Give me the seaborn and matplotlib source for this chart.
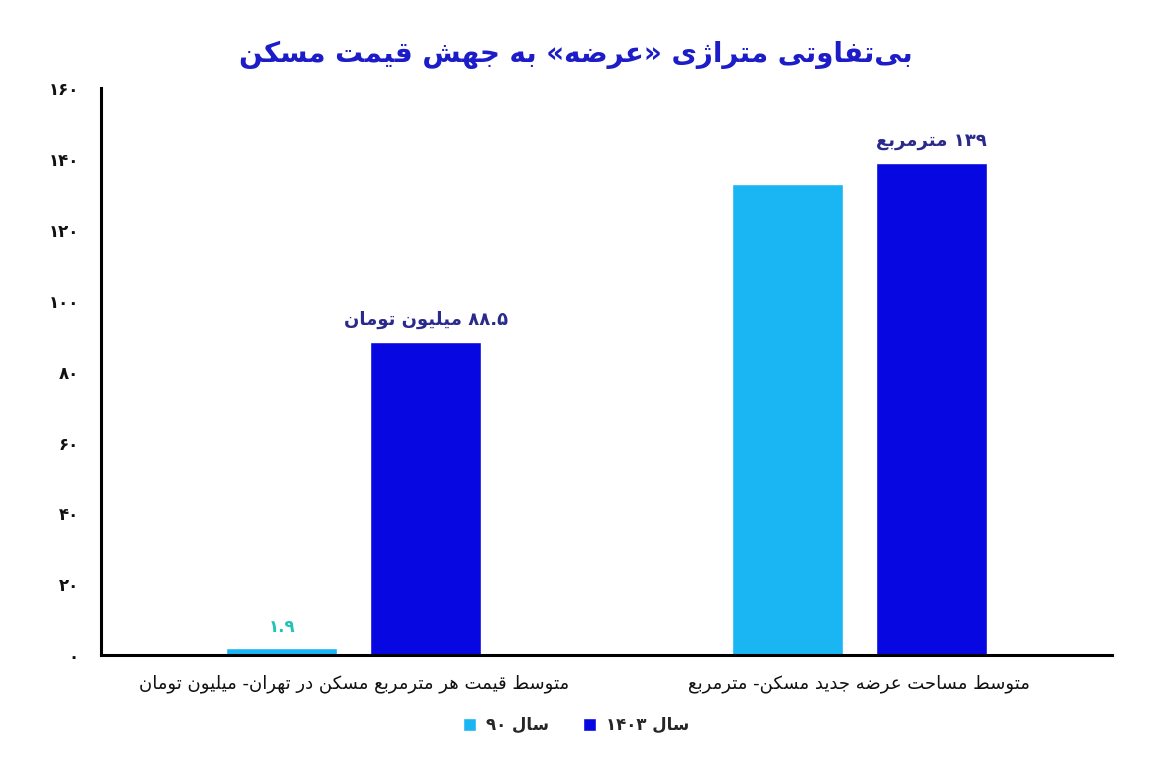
import re
import pandas as pd
import matplotlib
matplotlib.use("Agg")
import matplotlib.pyplot as plt
from matplotlib.ticker import FuncFormatter
import seaborn as sns

# ---- data ----
title = "بی\u200cتفاوتی متراژی «عرضه» به جهش قیمت مسکن"
categories = [
    "متوسط قیمت هر مترمربع مسکن در تهران- میلیون تومان",
    "متوسط مساحت عرضه جدید مسکن- مترمربع",
]
years = ["سال ۹۰", "سال ۱۴۰۳"]
values_90 = [1.9, 133]
values_1403 = [88.5, 139]
labels_90 = ["۱.۹", ""]
labels_1403 = ["۸۸.۵ میلیون تومان", "۱۳۹ مترمربع"]
y_ticks = [0, 20, 40, 60, 80, 100, 120, 140, 160]

COLOR_90 = "#1ab6f4"
COLOR_1403 = "#0707e2"

# ---- minimal Persian shaping (matplotlib has no complex text layout) ----
DUAL = {
    "ب": (0xFE8F, 0xFE90, 0xFE91, 0xFE92), "ت": (0xFE95, 0xFE96, 0xFE97, 0xFE98),
    "ج": (0xFE9D, 0xFE9E, 0xFE9F, 0xFEA0), "ح": (0xFEA1, 0xFEA2, 0xFEA3, 0xFEA4),
    "س": (0xFEB1, 0xFEB2, 0xFEB3, 0xFEB4), "ش": (0xFEB5, 0xFEB6, 0xFEB7, 0xFEB8),
    "ض": (0xFEBD, 0xFEBE, 0xFEBF, 0xFEC0), "ط": (0xFEC1, 0xFEC2, 0xFEC3, 0xFEC4),
    "ع": (0xFEC9, 0xFECA, 0xFECB, 0xFECC), "ف": (0xFED1, 0xFED2, 0xFED3, 0xFED4),
    "ق": (0xFED5, 0xFED6, 0xFED7, 0xFED8), "ل": (0xFEDD, 0xFEDE, 0xFEDF, 0xFEE0),
    "م": (0xFEE1, 0xFEE2, 0xFEE3, 0xFEE4), "ن": (0xFEE5, 0xFEE6, 0xFEE7, 0xFEE8),
    "ه": (0xFEE9, 0xFEEA, 0xFEEB, 0xFEEC), "ی": (0xFBFC, 0xFBFD, 0xFBFE, 0xFBFF),
    "ک": (0xFB8E, 0xFB8F, 0xFB90, 0xFB91),
}
RIGHT = {
    "ا": (0xFE8D, 0xFE8E), "د": (0xFEA9, 0xFEAA), "ر": (0xFEAD, 0xFEAE),
    "و": (0xFEED, 0xFEEE), "ژ": (0xFB8A, 0xFB8B), "ز": (0xFEAF, 0xFEB0),
}
MIRROR = {"«": "»", "»": "«", "(": ")", ")": "("}


def fa(text):
    chars = list(text)
    out = []
    for i, c in enumerate(chars):
        if c in DUAL or c in RIGHT:
            prev = chars[i - 1] if i > 0 else ""
            nxt = chars[i + 1] if i + 1 < len(chars) else ""
            jp = prev in DUAL
            jn = c in DUAL and (nxt in DUAL or nxt in RIGHT)
            forms = DUAL.get(c) or RIGHT.get(c)
            if jp and jn:
                f = forms[3]
            elif jp:
                f = forms[1]
            elif jn:
                f = forms[2]
            else:
                f = forms[0]
            out.append(chr(f))
        elif c == "\u200c":
            continue
        else:
            out.append(c)
    shaped = "".join(out)
    # visual order: reverse, but keep number runs left-to-right
    tokens = re.findall(r"[۰-۹0-9.]+|[^۰-۹0-9.]+", shaped)
    vis = []
    for t in reversed(tokens):
        if re.fullmatch(r"[۰-۹0-9.]+", t):
            vis.append(t)
        else:
            vis.append("".join(MIRROR.get(ch, ch) for ch in reversed(t)))
    return "".join(vis)


def fa_num(v, pos=None):
    return str(int(v)).translate(str.maketrans("0123456789", "۰۱۲۳۴۵۶۷۸۹"))


sns.set_theme(style="white")
plt.rcParams["font.family"] = ["DejaVu Sans"]

df = pd.DataFrame({
    "category": [fa(c) for c in categories] * 2,
    "year": [fa(years[0])] * 2 + [fa(years[1])] * 2,
    "value": values_90 + values_1403,
})

fig = plt.figure(figsize=(11.52, 7.68), dpi=100)
ax = fig.add_axes([0.0877, 0.147, 0.8776, 0.738])

sns.barplot(
    data=df, x="category", y="value", hue="year",
    palette=[COLOR_90, COLOR_1403], saturation=1,
    width=0.57, gap=0.23, ax=ax,
)

ax.bar_label(ax.containers[0], labels=[fa(l) for l in labels_90],
             padding=9, color="#22c4b6", fontsize=12, fontweight="bold")
ax.bar_label(ax.containers[1], labels=[fa(l) for l in labels_1403],
             padding=9, color="#2a2a8c", fontsize=13, fontweight="bold")

ax.set_xlim(-0.5, 1.5)
ax.set_ylim(0, 160)
ax.set_yticks(y_ticks)
ax.yaxis.set_major_formatter(FuncFormatter(fa_num))
ax.set_xlabel("")
ax.set_ylabel("")
ax.tick_params(axis="y", length=0, pad=16, labelsize=12, labelcolor="#111111")
ax.tick_params(axis="x", length=0, pad=14, labelsize=13, labelcolor="#111111")
for lab in ax.get_yticklabels():
    lab.set_fontweight("bold")

sns.despine(ax=ax)
for side in ["left", "bottom"]:
    ax.spines[side].set_color("black")
    ax.spines[side].set_linewidth(2.2)

handles, labels = ax.get_legend_handles_labels()
ax.get_legend().remove()
fig.legend(handles, labels, loc="center", bbox_to_anchor=(0.5, 0.056),
           ncol=2, frameon=False, fontsize=12, handlelength=0.8,
           handleheight=0.8, columnspacing=2.0, handletextpad=0.6,
           prop={"size": 12, "weight": "bold"})

fig.text(0.5, 0.928, fa(title), ha="center", va="center",
         fontsize=20, fontweight="bold", color="#1c1cc8")

fig.savefig("out.png", dpi=100)
